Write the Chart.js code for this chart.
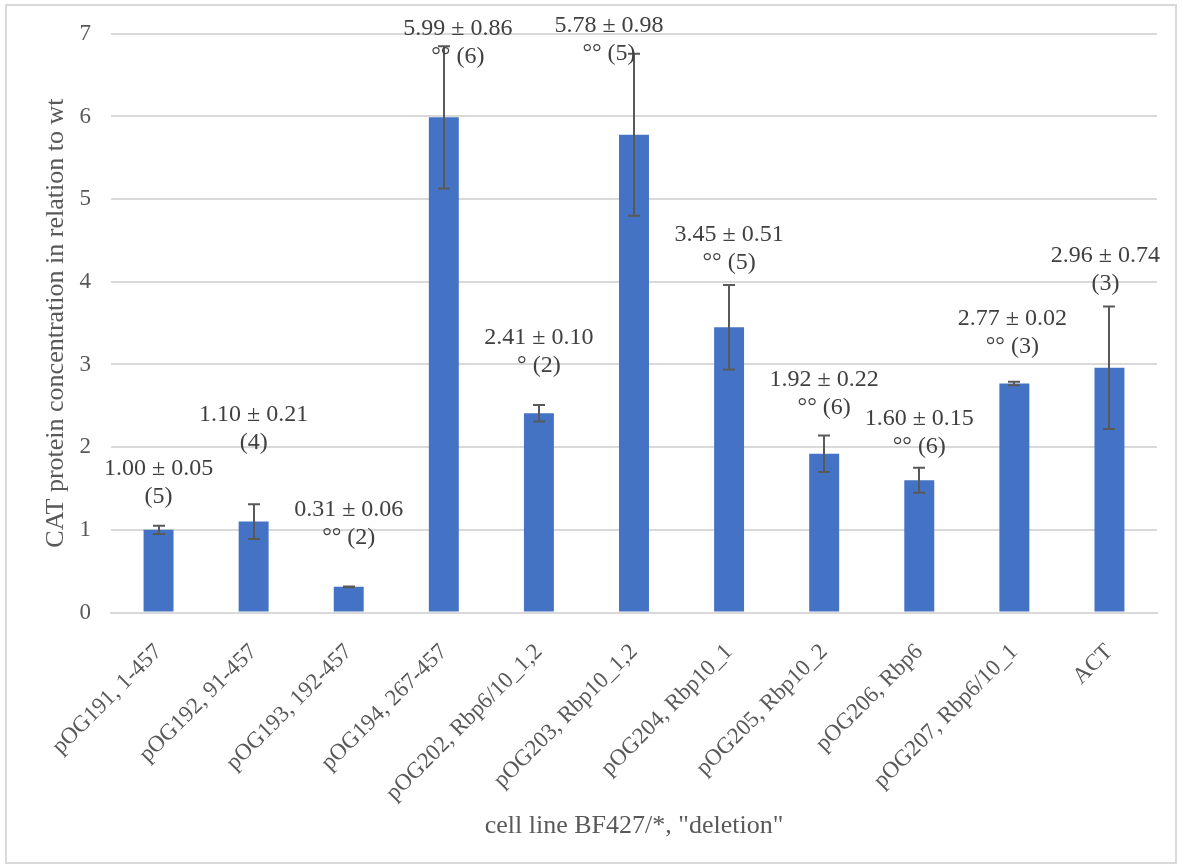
<!DOCTYPE html>
<html>
<head>
<meta charset="utf-8">
<script src="https://cdn.jsdelivr.net/npm/chart.js@4/dist/chart.umd.min.js"></script>
<style>
  html, body { margin: 0; padding: 0; background: #ffffff; }
  #frame { position: absolute; left: 0; top: 0; width: 1182px; height: 868px; }
  #border { position: absolute; left: 5px; top: 4px; width: 1172px; height: 860px;
            border: 2px solid #d9d9d9; box-sizing: border-box; pointer-events: none; }
</style>
</head>
<body>
<div id="frame">
  <canvas id="c" width="1182" height="868"></canvas>
  <div id="border"></div>
</div>
<script>
// Cell lines (construct, deleted region)
const categories = [
  "pOG191, 1-457", "pOG192, 91-457", "pOG193, 192-457", "pOG194, 267-457",
  "pOG202, Rbp6/10_1,2", "pOG203, Rbp10_1,2", "pOG204, Rbp10_1", "pOG205, Rbp10_2",
  "pOG206, Rbp6", "pOG207, Rbp6/10_1", "ACT"
];
// Mean CAT protein level relative to wt
const means = [1.00, 1.10, 0.31, 5.99, 2.41, 5.78, 3.45, 1.92, 1.60, 2.77, 2.96];
// Standard deviation as stated in the labels
const sdStated = [0.05, 0.21, 0.06, 0.86, 0.10, 0.98, 0.51, 0.22, 0.15, 0.02, 0.74];
// Half-length of the plotted error bars
const errBars = [0.05, 0.21, 0.005, 0.86, 0.10, 0.98, 0.51, 0.22, 0.15, 0.02, 0.74];
// Number of replicates
const replicates = [5, 4, 2, 6, 2, 5, 5, 6, 6, 3, 3];
// Significance marks
const signif = ["", "", "°°", "°°", "°", "°°", "°°", "°°", "°°", "°°", ""];
// Y axis ticks
const yTicks = [0, 1, 2, 3, 4, 5, 6, 7];

const SERIF = '"Liberation Serif", "Times New Roman", serif';

// Where each two-line label sits: value level of its lower line and sideways nudge (px)
const labelPlacement = {
  level: [1.40, 2.05, 0.91, 6.72, 2.99, 6.76, 4.23, 2.48, 2.00, 3.21, 3.98],
  shift: [0, 0, 0, 14, 0, -25, 0, 0, 0, -2, -4]
};

const errorBarPlugin = {
  id: 'errorBars',
  afterDatasetsDraw(chart) {
    const ctx = chart.ctx;
    const y = chart.scales.y;
    const meta = chart.getDatasetMeta(0);
    ctx.save();
    ctx.strokeStyle = '#595959';
    ctx.lineWidth = 2;
    meta.data.forEach((bar, i) => {
      const x = Math.round(bar.x);
      const top = y.getPixelForValue(means[i] + errBars[i]);
      const bot = y.getPixelForValue(means[i] - errBars[i]);
      ctx.beginPath();
      ctx.moveTo(x, top); ctx.lineTo(x, bot);
      ctx.moveTo(x - 6, top); ctx.lineTo(x + 6, top);
      ctx.moveTo(x - 6, bot); ctx.lineTo(x + 6, bot);
      ctx.stroke();
    });
    ctx.restore();
  }
};

const valueLabelPlugin = {
  id: 'valueLabels',
  afterDatasetsDraw(chart) {
    const ctx = chart.ctx;
    const y = chart.scales.y;
    const meta = chart.getDatasetMeta(0);
    ctx.save();
    ctx.font = '24px ' + SERIF;
    ctx.fillStyle = '#404040';
    ctx.textAlign = 'center';
    ctx.textBaseline = 'middle';
    meta.data.forEach((bar, i) => {
      const x = bar.x + labelPlacement.shift[i];
      const y2 = y.getPixelForValue(labelPlacement.level[i]);
      const line1 = means[i].toFixed(2) + ' ± ' + sdStated[i].toFixed(2);
      const line2 = (signif[i] ? signif[i] + ' ' : '') + '(' + replicates[i] + ')';
      ctx.fillText(line1, x, y2 - 28);
      ctx.fillText(line2, x, y2);
    });
    ctx.restore();
  }
};

new Chart(document.getElementById('c'), {
  type: 'bar',
  data: {
    labels: categories,
    datasets: [{
      data: means,
      backgroundColor: '#4472C4',
      borderWidth: 0,
      barPercentage: 0.63,
      categoryPercentage: 0.5
    }]
  },
  options: {
    responsive: false,
    animation: false,
    devicePixelRatio: 1,
    layout: { padding: { left: 14, right: 25, top: 33, bottom: 0 } },
    plugins: { legend: { display: false }, tooltip: { enabled: false } },
    scales: {
      x: {
        grid: { display: false, drawTicks: false },
        border: { display: true, color: '#d9d9d9', width: 2 },
        ticks: {
          color: '#595959',
          font: { family: SERIF, size: 23 },
          maxRotation: 45, minRotation: 45,
          padding: 26,
          autoSkip: false
        },
        title: {
          display: true,
          text: 'cell line BF427/*, "deletion"',
          color: '#595959',
          font: { family: SERIF, size: 26 },
          padding: { top: 0, bottom: 26 }
        },
        afterFit(scale) { scale.height = 868 - 612.5; }
      },
      y: {
        min: 0, max: 7,
        afterBuildTicks(scale) { scale.ticks = yTicks.map(v => ({ value: v })); },
        grid: { color: '#d9d9d9', lineWidth: 2, drawTicks: false },
        border: { display: false },
        ticks: {
          color: '#595959',
          font: { family: SERIF, size: 23 },
          padding: 20
        },
        title: {
          display: true,
          text: 'CAT protein concentration in relation to wt',
          color: '#595959',
          font: { family: SERIF, size: 26 },
          padding: { top: 27, bottom: 0 }
        },
        afterFit(scale) { scale.width = 111 - 14; }
      }
    }
  },
  plugins: [errorBarPlugin, valueLabelPlugin]
});
</script>
</body>
</html>
